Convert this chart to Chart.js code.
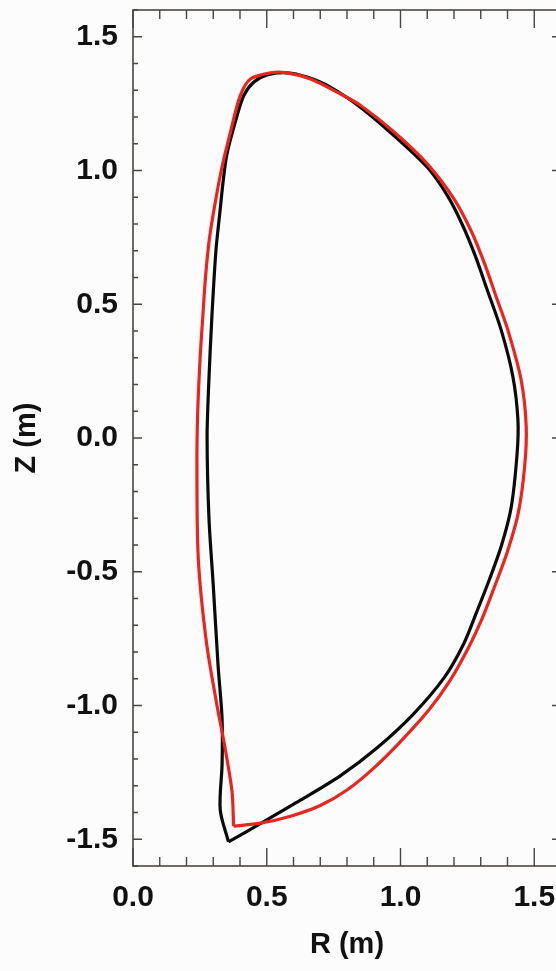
<!DOCTYPE html>
<html><head><meta charset="utf-8">
<script src="https://cdn.jsdelivr.net/npm/chart.js@4"></script>
<style>
html,body{margin:0;padding:0;background:#fcfcfc;overflow:hidden;width:556px;height:971px;}
#wrap{position:absolute;left:0;top:0;width:570px;height:971px;}
</style></head><body>
<div id="wrap"><canvas id="c" width="570" height="971"></canvas></div>
<script>
// Black boundary (R, Z in metres)
const blackR = [0.357,0.489,0.626,0.776,0.914,1.050,1.164,1.236,1.285,1.332,1.378,1.414,1.436,1.439,1.420,1.376,1.322,1.280,1.230,1.176,1.101,0.976,0.851,0.739,0.651,0.576,0.501,0.451,0.414,0.382,0.351,0.337,0.326,0.310,0.295,0.283,0.277,0.284,0.300,0.318,0.333,0.333,0.326];
const blackZ = [-1.510,-1.434,-1.354,-1.262,-1.157,-1.030,-0.895,-0.770,-0.650,-0.530,-0.400,-0.258,-0.057,0.068,0.230,0.405,0.560,0.680,0.800,0.905,1.011,1.130,1.236,1.311,1.349,1.365,1.357,1.330,1.280,1.180,1.060,0.960,0.855,0.700,0.455,0.200,0.000,-0.300,-0.550,-0.850,-1.050,-1.220,-1.389];
// Red boundary
const redR = [0.376,0.476,0.589,0.700,0.800,0.900,1.000,1.105,1.185,1.255,1.303,1.350,1.398,1.440,1.464,1.470,1.451,1.401,1.357,1.315,1.266,1.201,1.101,0.976,0.851,0.776,0.664,0.576,0.514,0.439,0.401,0.364,0.330,0.303,0.285,0.271,0.261,0.251,0.242,0.239,0.244,0.274,0.314,0.339,0.370];
const redZ = [-1.451,-1.440,-1.414,-1.374,-1.316,-1.234,-1.135,-1.018,-0.907,-0.782,-0.680,-0.560,-0.430,-0.282,-0.108,0.042,0.217,0.405,0.530,0.650,0.770,0.892,1.024,1.144,1.243,1.286,1.342,1.365,1.365,1.342,1.280,1.142,1.000,0.855,0.740,0.600,0.455,0.300,0.100,-0.100,-0.450,-0.760,-1.000,-1.130,-1.320];
// Axis tick labels
const xTicks = [0.0,0.5,1.0,1.5];
const yTicks = [-1.5,-1.0,-0.5,0.0,0.5,1.0,1.5];

function closed(R,Z){const p=R.map((r,i)=>({x:r,y:Z[i]}));p.push({x:R[0],y:Z[0]});return p;}

const frame = {
  id:'frame',
  afterDatasetsDraw(chart){
    const {ctx, chartArea:a, scales:{x,y}} = chart;
    ctx.save();
    ctx.strokeStyle='#4a4540'; ctx.lineWidth=1.6;
    ctx.strokeRect(a.left,a.top,a.right-a.left,a.bottom-a.top);
    ctx.lineWidth=1.4;
    ctx.beginPath();
    for(let k=0;k<=16;k++){
      const v=k/10, px=x.getPixelForValue(v), L=(k%5===0)?18:9;
      ctx.moveTo(px,a.bottom); ctx.lineTo(px,a.bottom-L);
      ctx.moveTo(px,a.top); ctx.lineTo(px,a.top+L);
    }
    for(let k=-16;k<=16;k++){
      const v=k/10, py=y.getPixelForValue(v), L=(k%5===0)?9:5;
      ctx.moveTo(a.left,py); ctx.lineTo(a.left+L,py);
      ctx.moveTo(a.right,py); ctx.lineTo(a.right-L,py);
    }
    ctx.stroke();
    ctx.restore();
  }
};

const fnt = {family:'"Liberation Sans", Arial, Helvetica, sans-serif', size:30, weight:'bold'};
const tfnt = {family:'"Liberation Sans", Arial, Helvetica, sans-serif', size:29, weight:'bold'};

new Chart(document.getElementById('c'), {
  type:'scatter',
  data:{datasets:[
    {label:'red', data:closed(redR,redZ), showLine:true, borderColor:'#e8261f', borderWidth:3.2, pointRadius:0, tension:0.3, fill:false},
    {label:'black', data:closed(blackR,blackZ), showLine:true, borderColor:'#0a0a0a', borderWidth:3.2, pointRadius:0, tension:0.3, fill:false}
  ]},
  options:{
    responsive:false, animation:false, devicePixelRatio:1,
    layout:{padding:{left:0,right:9,top:10,bottom:0}},
    plugins:{legend:{display:false}, tooltip:{enabled:false}},
    scales:{
      x:{type:'linear', min:0, max:1.6,
        grid:{display:false, drawTicks:false}, border:{display:false},
        afterBuildTicks:s=>{s.ticks=xTicks.map(v=>({value:v}));},
        afterFit:s=>{s.height=105; s.paddingLeft=0; s.paddingRight=0;},
        ticks:{padding:14, color:'#111', font:fnt, maxRotation:0, autoSkip:false, callback:v=>Math.abs(v)<1e-9?'0.0':Number(v).toFixed(1)},
        title:{display:true, text:'R (m)', color:'#111', font:tfnt, padding:{top:0,bottom:9}}
      },
      y:{type:'linear', min:-1.6, max:1.6,
        grid:{display:false, drawTicks:false}, border:{display:false},
        afterBuildTicks:s=>{s.ticks=yTicks.map(v=>({value:v}));},
        afterFit:s=>{s.width=133; s.paddingTop=0; s.paddingBottom=0;},
        ticks:{padding:15, color:'#111', font:fnt, autoSkip:false, callback:v=>Math.abs(v)<1e-9?'0.0':Number(v).toFixed(1)},
        title:{display:true, text:'Z (m)', color:'#111', font:tfnt, padding:{top:10,bottom:0}}
      }
    }
  },
  plugins:[frame]
});
</script>
</body></html>
